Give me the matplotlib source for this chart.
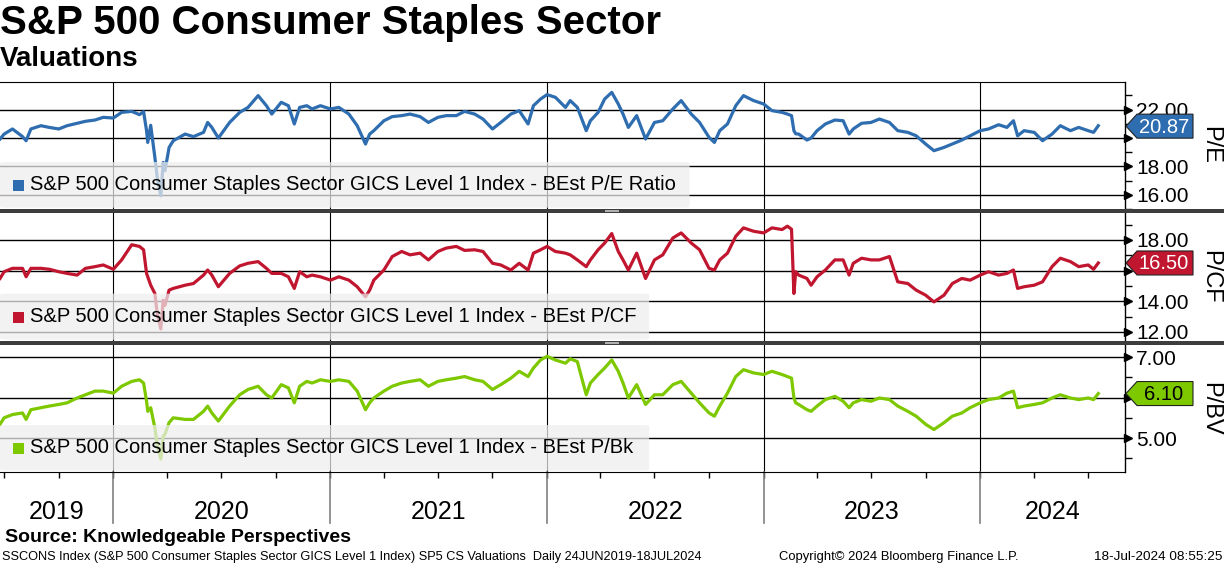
import matplotlib
matplotlib.use('Agg')
import matplotlib.pyplot as plt
import matplotlib.patches as mpatches
import matplotlib.transforms as mtransforms
import pandas as pd

plt.rcParams['font.family'] = ['Liberation Sans', 'DejaVu Sans']

# Fechas de muestreo
fechas = [
    '2019-06-24', '2019-07-01', '2019-07-15', '2019-08-01', '2019-08-07', '2019-08-15', '2019-09-01',
    '2019-09-15', '2019-10-01', '2019-10-15', '2019-11-01', '2019-11-15', '2019-12-01', '2019-12-15',
    '2020-01-01', '2020-01-15', '2020-02-01', '2020-02-14', '2020-02-21', '2020-02-26', '2020-02-28',
    '2020-03-04', '2020-03-11', '2020-03-15', '2020-03-21', '2020-03-25', '2020-03-28', '2020-04-04',
    '2020-04-11', '2020-05-01', '2020-05-15', '2020-06-01', '2020-06-08', '2020-06-15', '2020-06-26',
    '2020-07-15', '2020-08-01', '2020-08-15', '2020-09-01', '2020-09-15', '2020-09-24', '2020-10-10',
    '2020-10-22', '2020-11-01', '2020-11-10', '2020-11-22', '2020-12-01', '2020-12-15',
    '2021-01-01', '2021-01-15', '2021-02-01', '2021-02-15', '2021-03-01', '2021-03-08', '2021-03-15',
    '2021-04-01', '2021-04-15', '2021-05-01', '2021-05-15', '2021-06-01', '2021-06-15', '2021-07-01',
    '2021-07-15', '2021-08-01', '2021-08-15', '2021-09-01', '2021-09-15', '2021-10-01', '2021-10-15',
    '2021-11-01', '2021-11-15', '2021-11-30', '2021-12-09', '2021-12-21',
    '2022-01-01', '2022-01-15', '2022-02-01', '2022-02-09', '2022-02-21', '2022-03-08', '2022-03-15',
    '2022-03-28', '2022-04-08', '2022-04-20', '2022-05-01', '2022-05-09', '2022-05-18', '2022-06-01',
    '2022-06-16', '2022-07-01', '2022-07-15', '2022-08-01', '2022-08-15', '2022-09-01', '2022-09-15',
    '2022-10-01', '2022-10-10', '2022-10-19', '2022-11-01', '2022-11-15', '2022-11-28', '2022-12-15',
    '2023-01-01', '2023-01-15', '2023-02-01', '2023-02-10', '2023-02-17', '2023-02-21', '2023-02-24',
    '2023-03-01', '2023-03-15', '2023-03-22', '2023-04-01', '2023-04-15', '2023-05-01', '2023-05-15',
    '2023-05-25', '2023-06-01', '2023-06-15', '2023-07-01', '2023-07-15', '2023-08-01', '2023-08-15',
    '2023-09-01', '2023-09-15', '2023-10-01', '2023-10-15', '2023-11-01', '2023-11-15', '2023-12-01',
    '2023-12-15',
    '2024-01-01', '2024-01-15', '2024-02-01', '2024-02-15', '2024-02-26', '2024-03-04', '2024-03-15',
    '2024-04-01', '2024-04-15', '2024-05-01', '2024-05-15', '2024-06-01', '2024-06-15', '2024-07-01',
    '2024-07-10', '2024-07-18',
]

pe = [
    19.93, 20.28, 20.64, 20.10, 19.81, 20.64, 20.87, 20.75, 20.64, 20.87, 21.04, 21.18, 21.27, 21.46,
    21.41, 21.81, 21.88, 21.65, 21.86, 20.52, 19.69, 20.90, 18.64, 17.22, 15.93, 18.28, 17.70, 19.34,
    19.81, 20.28, 20.10, 20.40, 21.10, 20.75, 20.00, 21.10, 21.81, 22.16, 22.99, 22.28, 21.69, 22.52,
    22.28, 20.99, 22.16, 22.28, 22.05, 22.28,
    22.05, 22.16, 21.69, 20.87, 19.58, 20.28, 20.52, 21.22, 21.51, 21.58, 21.69, 21.51, 21.10, 21.46,
    21.58, 21.58, 21.88, 21.69, 21.34, 20.64, 21.10, 21.69, 21.93, 20.99, 22.28, 22.75,
    23.06, 22.87, 22.16, 22.64, 22.16, 20.52, 21.22, 21.81, 22.75, 23.22, 22.40, 21.69, 20.75, 21.58,
    19.93, 21.10, 21.22, 22.05, 22.64, 21.69, 21.10, 20.05, 19.69, 20.52, 20.99, 22.28, 22.99, 22.64,
    22.40, 21.93, 21.81, 21.69, 21.58, 20.52, 20.30, 20.28, 19.86, 20.00, 20.52, 20.99, 21.27, 21.22,
    20.28, 20.64, 21.04, 21.10, 21.34, 21.10, 20.52, 20.40, 20.16, 19.58, 19.11, 19.34, 19.58, 19.86,
    20.16,
    20.52, 20.64, 20.94, 20.75, 21.22, 20.16, 20.52, 20.40, 19.81, 20.28, 20.87, 20.52, 20.75, 20.52,
    20.40, 20.87,
]

pcf = [
    15.49, 15.93, 16.15, 16.15, 15.60, 16.15, 16.15, 16.09, 15.93, 15.82, 15.71, 16.15, 16.26, 16.37,
    16.09, 16.70, 17.69, 17.58, 17.36, 15.82, 15.60, 15.05, 14.51, 13.19, 12.20, 14.07, 13.74, 14.73,
    14.84, 15.05, 15.16, 15.71, 16.04, 15.71, 14.95, 15.82, 16.31, 16.48, 16.59, 16.15, 15.82, 15.82,
    15.60, 14.84, 15.93, 15.60, 15.71, 15.60,
    15.38, 15.60, 15.38, 14.95, 14.29, 14.73, 15.38, 16.04, 16.92, 17.25, 17.03, 17.14, 16.70, 17.25,
    17.47, 17.58, 17.32, 17.36, 17.25, 16.48, 16.37, 16.04, 16.48, 16.04, 17.14, 17.36,
    17.58, 17.25, 17.14, 17.03, 16.70, 16.26, 16.70, 17.36, 17.80, 18.42, 17.25, 16.70, 16.04, 17.14,
    15.49, 16.70, 17.03, 18.13, 18.46, 17.80, 17.36, 16.15, 16.04, 16.70, 17.14, 18.24, 18.79, 18.57,
    18.46, 18.79, 18.68, 18.90, 18.70, 14.51, 15.93, 15.71, 15.49, 15.05, 15.60, 16.04, 16.70, 16.70,
    15.71, 16.48, 16.81, 16.70, 16.70, 16.92, 15.27, 15.16, 14.73, 14.40, 13.96, 14.40, 15.16, 15.49,
    15.38,
    15.71, 15.93, 15.71, 15.82, 16.04, 14.84, 14.95, 15.05, 15.27, 16.26, 16.81, 16.59, 16.26, 16.37,
    16.09, 16.50,
]

pbv = [
    5.34, 5.50, 5.58, 5.62, 5.46, 5.70, 5.75, 5.79, 5.83, 5.87, 5.99, 6.07, 6.16, 6.16,
    6.11, 6.28, 6.40, 6.44, 6.36, 5.91, 5.66, 5.75, 5.25, 4.84, 4.48, 5.05, 5.09, 5.38,
    5.50, 5.46, 5.46, 5.66, 5.79, 5.62, 5.42, 5.79, 6.07, 6.20, 6.28, 6.07, 5.99, 6.32,
    6.24, 5.87, 6.28, 6.40, 6.36, 6.44,
    6.40, 6.44, 6.40, 6.16, 5.70, 5.87, 5.99, 6.16, 6.28, 6.36, 6.40, 6.44, 6.28, 6.40,
    6.44, 6.48, 6.52, 6.44, 6.40, 6.20, 6.32, 6.48, 6.65, 6.52, 6.73, 6.93,
    7.02, 6.93, 6.85, 6.96, 6.89, 6.07, 6.36, 6.57, 6.73, 6.93, 6.65, 6.36, 5.99, 6.32,
    5.83, 6.07, 6.07, 6.32, 6.40, 6.11, 5.87, 5.62, 5.54, 5.79, 6.11, 6.52, 6.69, 6.61,
    6.57, 6.65, 6.57, 6.52, 6.48, 5.99, 5.87, 5.83, 5.70, 5.66, 5.79, 5.95, 6.03, 5.91,
    5.75, 5.87, 5.95, 5.91, 5.99, 5.95, 5.79, 5.66, 5.54, 5.34, 5.21, 5.38, 5.54, 5.62,
    5.75,
    5.87, 5.95, 5.99, 6.11, 6.16, 5.75, 5.79, 5.83, 5.87, 5.99, 6.07, 5.99, 5.95, 5.99,
    5.95, 6.10,
]

ultimos = [20.87, 16.50, 6.10]                       # Valores de las etiquetas del eje derecho.
anios = [2019, 2020, 2021, 2022, 2023, 2024]

leyendas = ['S&P 500 Consumer Staples Sector GICS Level 1 Index - BEst P/E Ratio',
            'S&P 500 Consumer Staples Sector GICS Level 1 Index - BEst P/CF',
            'S&P 500 Consumer Staples Sector GICS Level 1 Index - BEst P/Bk']
etiquetas = ['P/E', 'P/CF', 'P/BV']

t = pd.to_datetime(fechas)
x_ini = pd.Timestamp('2019-06-24')
x_fin = pd.Timestamp('2024-09-01')

W, H = 1224, 566
fig = plt.figure(figsize=(W / 100, H / 100), dpi=100)

def fy(py):                                          # pixel desde arriba -> fraccion de figura
    return 1 - py / H

# (datos, color, color texto etiqueta, y superior, y inferior, limites, mayores, menores, ancho caja)
paneles = [
    (pe, '#2e6daf', 'white', 82, 209, (15.09, 23.95), [16, 18, 20, 22], [15, 17, 19, 21, 23], 0.613),
    (pcf, '#c1162f', 'white', 213, 341, (11.41, 19.76), [12, 14, 16, 18], [13, 15, 17, 19], 0.577),
    (pbv, '#7ec800', 'black', 345, 472, (4.16, 7.30), [5, 6, 7], [4.5, 5.5, 6.5], 0.577),
]

ejes = []
for i, (serie, color, ctxt, ytop, ybot, lims, mayores, menores, ancho) in enumerate(paneles):
    ax = fig.add_axes([0, fy(ybot), 1125 / W, (ybot - ytop) / H])
    ejes.append(ax)
    ax.set_xlim(x_ini, x_fin)
    ax.set_ylim(*lims)
    ax.plot(t, serie, color=color, lw=2.3, zorder=2, solid_joinstyle='round')

    for v in mayores:
        ax.axhline(v, color='black', lw=1, zorder=1)
    for a in anios[1:]:
        ax.axvline(pd.Timestamp(f'{a}-01-01'), color='black', lw=0.8, zorder=1)

    # La etiqueta del ultimo valor tapa la marca mas cercana
    yv = ax.transData.transform((0, ultimos[i]))[1]
    textos = []
    for v in mayores:
        yt = ax.transData.transform((0, v))[1]
        textos.append('' if abs(yt - yv) < 14 else f'{v:.2f}')

    ax.yaxis.tick_right()
    ax.set_yticks(mayores)
    ax.set_yticklabels(textos)
    ax.set_yticks(menores, minor=True)
    ax.tick_params(axis='y', which='major', length=0, pad=8, labelsize=15)
    ax.tick_params(axis='y', which='minor', length=5, width=1, direction='out')
    trans = mtransforms.blended_transform_factory(ax.transAxes, ax.transData)
    ax.plot([1.0 + 3 / 1125] * len(mayores), mayores, ls='none', marker='>', ms=6,
            color='black', transform=trans, clip_on=False, zorder=5)

    for lado in ['left', 'bottom']:
        ax.spines[lado].set_visible(False)
    ax.spines['top'].set_visible(i == 0)
    ax.spines['right'].set_linewidth(1)
    ax.set_xticks([])

    # Caja de leyenda semitransparente
    ax.add_patch(mpatches.FancyBboxPatch((0, 0.01), ancho, 0.36, boxstyle='round,pad=0,rounding_size=0.008',
                                         transform=ax.transAxes, facecolor='#eeeeee', edgecolor='none',
                                         alpha=0.72, zorder=3))
    ax.add_patch(mpatches.Rectangle((13 / 1125, 0.14), 11 / 1125, 11 / 127, transform=ax.transAxes,
                                    facecolor=color, edgecolor='none', zorder=4))
    ax.text(30 / 1125, 0.19, leyendas[i], transform=ax.transAxes, fontsize=14.5,
            va='center', ha='left', zorder=4)

    # Etiqueta del ultimo valor (flecha)
    pts = [(1126, yv), (1137, yv + 12), (1193, yv + 12), (1193, yv - 12), (1137, yv - 12)]
    fig.add_artist(mpatches.Polygon(pts, closed=True, transform=mtransforms.IdentityTransform(),
                                    facecolor=color, edgecolor='#222222', lw=0.8, zorder=20))
    fig.text(1164 / W, (yv - 1) / H, f'{ultimos[i]:.2f}', color=ctxt, fontsize=14.5,
             ha='center', va='center', zorder=21)

    fig.text(1210 / W, fy((ytop + ybot) / 2), etiquetas[i], rotation=270, fontsize=17,
             ha='center', va='center')

# Eje de tiempo inferior
ax3 = ejes[2]
ax3.spines['bottom'].set_visible(True)
trimestres = [pd.Timestamp(f'{a}-{m:02d}-01') for a in anios for m in (1, 4, 7, 10)]
trimestres = [d for d in trimestres if x_ini <= d <= x_fin]
ax3.set_xticks(trimestres)
ax3.set_xticklabels([])
ax3.tick_params(axis='x', which='major', length=4, width=1, direction='out', color='black')
tx = mtransforms.blended_transform_factory(ax3.transData, ax3.transAxes)
for a in anios:
    ini = max(pd.Timestamp(f'{a}-01-01'), x_ini)
    fin = min(pd.Timestamp(f'{a + 1}-01-01'), x_fin)
    if a > anios[0]:
        ax3.plot([ini, ini], [0, -51 / 127], color='#808080', lw=1.2, transform=tx, clip_on=False)
    centro = ini + (fin - ini) / 2
    ax3.text(centro, -40 / 127, str(a), transform=tx, fontsize=18, ha='center', va='center')

# Separadores entre paneles
for ys in (209, 341):
    fig.add_artist(mpatches.Rectangle((0, fy(ys + 3.5)), 1, 3.5 / H, transform=fig.transFigure,
                                      facecolor='#3d3d3d', edgecolor='none', zorder=15))
    for dy in (1.2, 2.4):
        fig.add_artist(mpatches.Rectangle((605 / W, fy(ys + dy + 0.5)), 14 / W, 0.6 / H,
                                          transform=fig.transFigure, facecolor='#b0b0b0',
                                          edgecolor='none', zorder=16))

# Titulos y pie
fig.text(0, fy(23), 'S&P 500 Consumer Staples Sector', fontsize=29, fontweight='bold',
         ha='left', va='center')
fig.text(0, fy(59), 'Valuations', fontsize=20, fontweight='bold', ha='left', va='center')
fig.text(5 / W, fy(537), 'Source: Knowledgeable Perspectives', fontsize=14, fontweight='bold',
         ha='left', va='center')
fig.text(2 / W, fy(557), 'SSCONS Index (S&P 500 Consumer Staples Sector GICS Level 1 Index) SP5 CS Valuations  Daily 24JUN2019-18JUL2024',
         fontsize=9.2, ha='left', va='center')
fig.text(779 / W, fy(557), 'Copyright\u00a9 2024 Bloomberg Finance L.P.', fontsize=9.4, ha='left', va='center')
fig.text(1222 / W, fy(557), '18-Jul-2024 08:55:25', fontsize=9.7, ha='right', va='center')

fig.savefig('out.png', dpi=100, facecolor='white')
